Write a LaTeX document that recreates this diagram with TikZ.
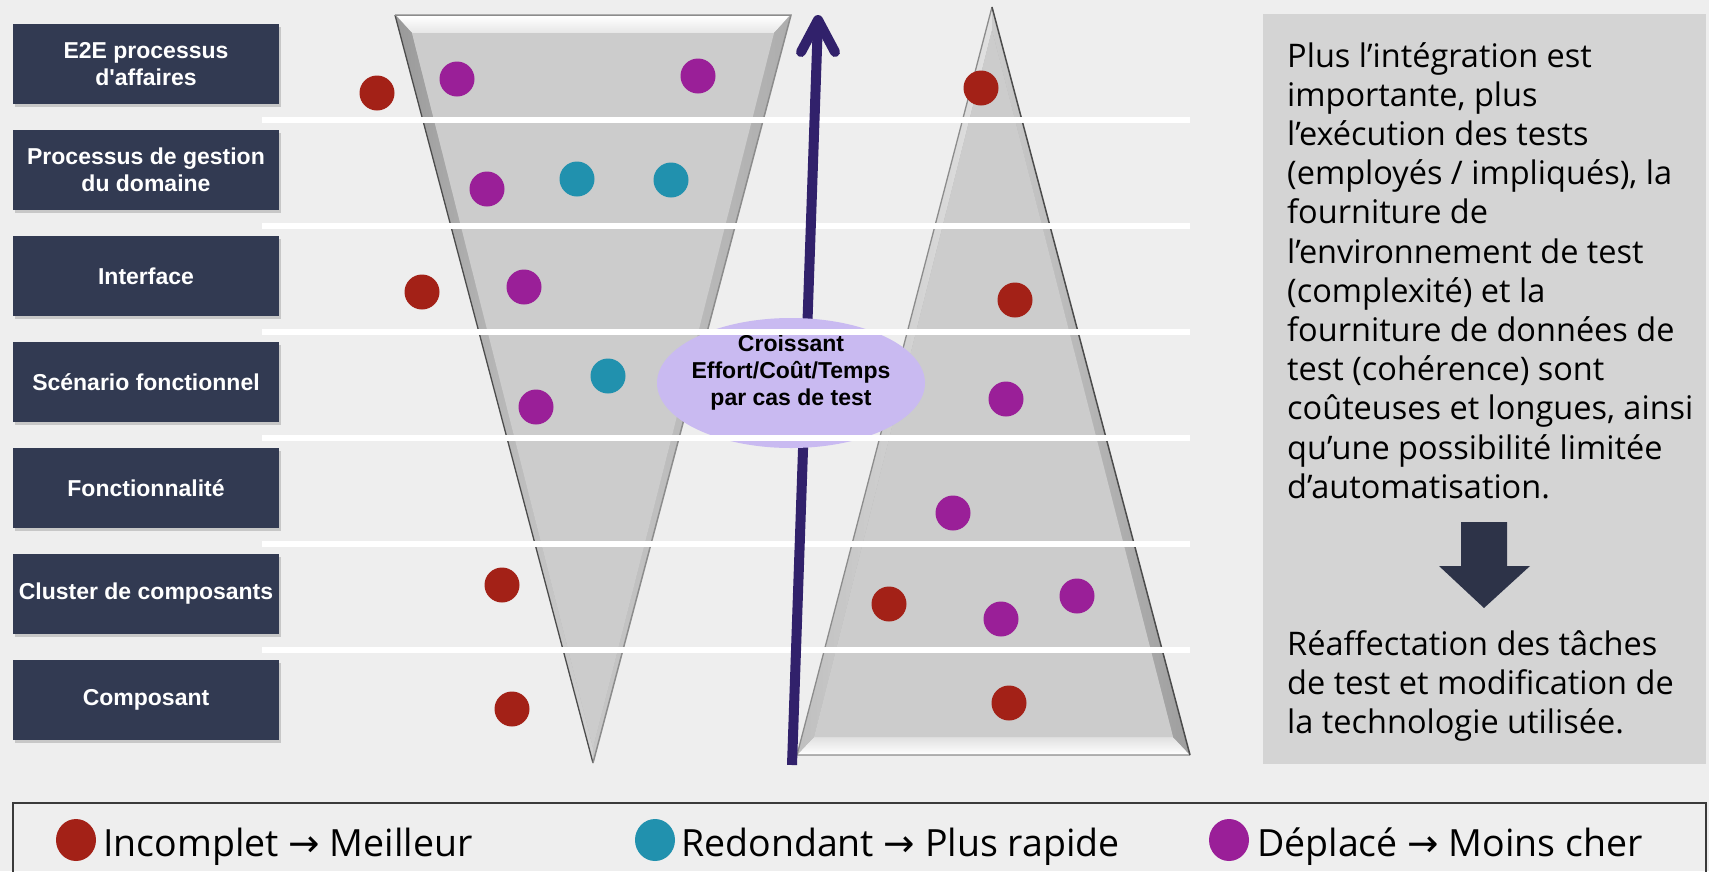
\documentclass[tikz,border=0pt]{standalone}
\usepackage{fontspec}
\setmainfont{Open Sans}
\newfontfamily\arialf{Liberation Sans}
\newfontfamily\dejavu{DejaVu Sans}
\usetikzlibrary{shapes.geometric,shadows}
\definecolor{bgc}{HTML}{EEEEEE}
\definecolor{boxc}{HTML}{323A52}
\definecolor{redc}{HTML}{A32117}
\definecolor{cyanc}{HTML}{2191AE}
\definecolor{magc}{HTML}{9A1F98}
\definecolor{panelc}{HTML}{D4D4D4}
\definecolor{darrc}{HTML}{2D3348}
\definecolor{lavc}{HTML}{C9BAF1}
\definecolor{purpc}{HTML}{31216B}
\definecolor{legc}{HTML}{3A3A3A}
\begin{document}
\begin{tikzpicture}[x=1pt,y=-1pt,
  lbox/.style={fill=boxc, minimum width=266pt, minimum height=80pt, inner sep=0pt,
    text=white, align=center, font=\arialf\bfseries\fontsize{23}{27}\selectfont,
    drop shadow={shadow xshift=2pt, shadow yshift=-3pt, opacity=0.35}},
  dot/.style={circle, fill=#1, minimum size=35pt, inner sep=0pt},
  ldot/.style={ellipse, fill=#1, minimum width=40pt, minimum height=42pt, inner sep=0pt},
  wline/.style={white, line width=6.5pt},
  arrowline/.style={purpc, line width=10pt},
  paneltext/.style={inner sep=0pt, anchor=base west, font=\fontsize{32.5}{39.2}\selectfont},
  legtext/.style={inner sep=0pt, anchor=base west, font=\fontsize{37.5}{40}\selectfont}
]
\useasboundingbox (0,0) rectangle (1709,871);
\fill[bgc] (0,0) rectangle (1709,871);

% left labels
\node[lbox] (b1) at (146,64)  {E2E processus\\d'affaires};
\node[lbox] (b2) at (146,170) {Processus de gestion\\du domaine};
\node[lbox] (b3) at (146,276) {Interface};
\node[lbox] (b4) at (146,382) {Scénario fonctionnel};
\node[lbox] (b5) at (146,488) {Fonctionnalité};
\node[lbox] (b6) at (146,594) {Cluster de composants};
\node[lbox] (b7) at (146,700) {Composant};

% left funnel
\fill[fill=black!29] (395,15) -- (791,15) -- (593,763) -- cycle;
\shade[top color=white, bottom color=black!10] (397,16) -- (789,16) -- (774,33) -- (412,33) -- cycle;
\shade[left color=black!40, right color=black!18] (395,15) -- (412,33) -- (593,748) -- (593,763) -- cycle;
\shade[left color=black!22, right color=black!32] (791,15) -- (774,33) -- (593,748) -- (593,763) -- cycle;
\fill[black!20] (412,33) -- (774,33) -- (593,748) -- cycle;
\draw[black!70, line width=1.3pt] (395,15) -- (593,763);
\draw[black!45, line width=1.5pt] (395,15) -- (791,15) -- (593,763);

% right funnel
\fill[black!29] (992,7) -- (1190,755) -- (797,755) -- cycle;
\shade[top color=black!12, bottom color=white] (797,755) -- (1190,755) -- (1173,737) -- (814,737) -- cycle;
\shade[left color=black!25, right color=black!12] (992,7) -- (992,30) -- (814,737) -- (797,755) -- cycle;
\shade[left color=black!20, right color=black!38] (992,7) -- (1190,755) -- (1173,737) -- (992,30) -- cycle;
\fill[black!20] (992,30) -- (1173,737) -- (814,737) -- cycle;
\draw[black!45, line width=1.3pt] (992,7) -- (797,755) -- (1190,755);
\draw[black!70, line width=1.5pt] (992,7) -- (1190,755);

% dots
\node[dot=redc] (d1) at (377,93) {};
\node[dot=magc] (d2) at (457,79) {};
\node[dot=magc] (d3) at (698,76) {};
\node[dot=magc] (d4) at (487,189) {};
\node[dot=cyanc] (d5) at (577,179) {};
\node[dot=cyanc] (d6) at (671,180) {};
\node[dot=redc] (d7) at (422,292) {};
\node[dot=magc] (d8) at (524,287) {};
\node[dot=cyanc] (d9) at (608,376) {};
\node[dot=magc] (d10) at (536,407) {};
\node[dot=redc] (d11) at (502,585) {};
\node[dot=redc] (d12) at (512,709) {};
\node[dot=redc] (d13) at (981,88) {};
\node[dot=redc] (d14) at (1015,300) {};
\node[dot=magc] (d15) at (1006,399) {};
\node[dot=magc] (d16) at (953,513) {};
\node[dot=redc] (d17) at (889,604) {};
\node[dot=magc] (d18) at (1001,619) {};
\node[dot=magc] (d19) at (1077,596) {};
\node[dot=redc] (d20) at (1009,703) {};

% white separator lines
\foreach \yy in {120,226,332,438,544,650} {
  \draw[wline] (262,\yy) -- (1190,\yy);
}

% rising arrow
\coordinate (arS) at (792,765);
\coordinate (arT) at (818,20);
\coordinate (arL) at (801,52);
\coordinate (arR) at (835,52);
\draw[arrowline] (arS) -- (arT);
\draw[arrowline, line cap=round, line join=round] (arL) -- (arT) -- (arR);

% ellipse
\node[ellipse, fill=lavc, minimum width=268pt, minimum height=130pt, inner sep=0pt] (ell) at (791,383) {};
\node[inner sep=0pt, align=center, font=\arialf\bfseries\fontsize{23}{27}\selectfont] (elltxt) at (791,373)
  {Croissant\\Effort/Coût/Temps\\par cas de test};
\draw[wline] (657,332) -- (925,332);
\draw[wline] (657,438) -- (925,438);

% right panel
\fill[panelc] (1263,14) rectangle (1706,764);
\node[paneltext] (p1) at (1287,67) {\parbox[t]{415pt}{\raggedright
Plus l’intégration est\\
importante, plus\\
l’exécution des tests\\
(employés / impliqués), la\\
fourniture de\\
l’environnement de test\\
(complexité) et la\\
fourniture de données de\\
test (cohérence) sont\\
coûteuses et longues, ainsi\\
qu’une possibilité limitée\\
d’automatisation.}};
\fill[darrc] (1461,522) -- (1507,522) -- (1507,566) -- (1530,566) -- (1484,608) -- (1439,566) -- (1461,566) -- cycle;
\node[paneltext] (p2) at (1287,655) {\parbox[t]{415pt}{\raggedright
Réaffectation des tâches\\
de test et modification de\\
la technologie utilisée.}};

% legend
\draw[legc, line width=1.5pt] (13,803) rectangle (1706,900);
\node[ldot=redc] (l1) at (76,840) {};
\node[legtext] (lt1) at (103,856) {Incomplet {\dejavu →} Meilleur};
\node[ldot=cyanc] (l2) at (655,840) {};
\node[legtext] (lt2) at (681,856) {Redondant {\dejavu →} Plus rapide};
\node[ldot=magc] (l3) at (1229,840) {};
\node[legtext] (lt3) at (1257,856) {Déplacé {\dejavu →} Moins cher};
\end{tikzpicture}
\end{document}
